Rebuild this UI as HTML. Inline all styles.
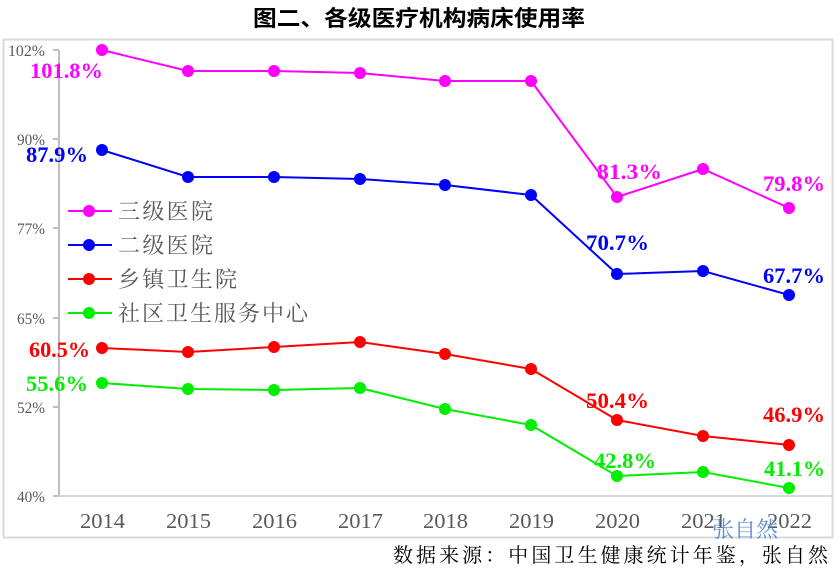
<!DOCTYPE html>
<html><head><meta charset="utf-8"><style>
body{margin:0;background:#fff;width:840px;height:568px;overflow:hidden}
svg text{font-family:"Liberation Serif","Noto Serif CJK SC",serif}
</style></head><body>
<svg width="840" height="568" viewBox="0 0 840 568">
<text x="253" y="26" textLength="332" lengthAdjust="spacingAndGlyphs" font-size="22" font-weight="bold" fill="#000" style="font-family:'Liberation Sans','Noto Sans CJK SC',sans-serif">图二、各级医疗机构病床使用率</text>
<rect x="3.5" y="39.5" width="829" height="498" fill="none" stroke="#d9d9d9" stroke-width="2"/>
<line x1="59" y1="50" x2="59" y2="496" stroke="#bfbfbf" stroke-width="2"/>
<line x1="59" y1="496" x2="832" y2="496" stroke="#d9d9d9" stroke-width="2"/>
<g stroke="#bfbfbf" stroke-width="2">
<line x1="53" y1="50" x2="59" y2="50"/><line x1="53" y1="139" x2="59" y2="139"/><line x1="53" y1="228" x2="59" y2="228"/><line x1="53" y1="318" x2="59" y2="318"/><line x1="53" y1="407" x2="59" y2="407"/><line x1="53" y1="496" x2="59" y2="496"/>
</g>
<g font-size="16" fill="#595959">
<text x="8" y="56" textLength="37" lengthAdjust="spacingAndGlyphs">102%</text><text x="17" y="145" textLength="28" lengthAdjust="spacingAndGlyphs">90%</text><text x="17" y="234" textLength="28" lengthAdjust="spacingAndGlyphs">77%</text><text x="17" y="324" textLength="28" lengthAdjust="spacingAndGlyphs">65%</text><text x="17" y="413" textLength="28" lengthAdjust="spacingAndGlyphs">52%</text><text x="17" y="502" textLength="28" lengthAdjust="spacingAndGlyphs">40%</text>
</g>
<g font-size="21" fill="#595959">
<text x="80" y="528" textLength="45" lengthAdjust="spacingAndGlyphs">2014</text><text x="166" y="528" textLength="45" lengthAdjust="spacingAndGlyphs">2015</text><text x="252" y="528" textLength="45" lengthAdjust="spacingAndGlyphs">2016</text><text x="338" y="528" textLength="45" lengthAdjust="spacingAndGlyphs">2017</text><text x="423" y="528" textLength="45" lengthAdjust="spacingAndGlyphs">2018</text><text x="509" y="528" textLength="45" lengthAdjust="spacingAndGlyphs">2019</text><text x="595" y="528" textLength="45" lengthAdjust="spacingAndGlyphs">2020</text><text x="681" y="528" textLength="45" lengthAdjust="spacingAndGlyphs">2021</text><text x="767" y="528" textLength="45" lengthAdjust="spacingAndGlyphs">2022</text>
</g>
<g fill="none" stroke-width="2">
<polyline stroke="#ff00ff" points="102,50 188,71 274,71 360,73 445,81 531,81 617,197 703,169 789,208"/>
<polyline stroke="#0000ff" points="102,150 188,177 274,177 360,179 445,185 531,195 617,274 703,271 789,295"/>
<polyline stroke="#ff0000" points="102,348 188,352 274,347 360,342 445,354 531,369 617,420 703,436 789,445"/>
<polyline stroke="#00ee00" points="102,383 188,389 274,390 360,388 445,409 531,425 617,476 703,472 789,488"/>
</g>
<g fill="#ff00ff"><circle cx="102" cy="50" r="6"/><circle cx="188" cy="71" r="6"/><circle cx="274" cy="71" r="6"/><circle cx="360" cy="73" r="6"/><circle cx="445" cy="81" r="6"/><circle cx="531" cy="81" r="6"/><circle cx="617" cy="197" r="6"/><circle cx="703" cy="169" r="6"/><circle cx="789" cy="208" r="6"/></g>
<g fill="#0000ff"><circle cx="102" cy="150" r="6"/><circle cx="188" cy="177" r="6"/><circle cx="274" cy="177" r="6"/><circle cx="360" cy="179" r="6"/><circle cx="445" cy="185" r="6"/><circle cx="531" cy="195" r="6"/><circle cx="617" cy="274" r="6"/><circle cx="703" cy="271" r="6"/><circle cx="789" cy="295" r="6"/></g>
<g fill="#ff0000"><circle cx="102" cy="348" r="6"/><circle cx="188" cy="352" r="6"/><circle cx="274" cy="347" r="6"/><circle cx="360" cy="342" r="6"/><circle cx="445" cy="354" r="6"/><circle cx="531" cy="369" r="6"/><circle cx="617" cy="420" r="6"/><circle cx="703" cy="436" r="6"/><circle cx="789" cy="445" r="6"/></g>
<g fill="#00ee00"><circle cx="102" cy="383" r="6"/><circle cx="188" cy="389" r="6"/><circle cx="274" cy="390" r="6"/><circle cx="360" cy="388" r="6"/><circle cx="445" cy="409" r="6"/><circle cx="531" cy="425" r="6"/><circle cx="617" cy="476" r="6"/><circle cx="703" cy="472" r="6"/><circle cx="789" cy="488" r="6"/></g>
<g font-size="22" font-weight="bold">
<text x="30" y="78" fill="#ff00ff" textLength="73" lengthAdjust="spacingAndGlyphs">101.8%</text>
<text x="597" y="179" fill="#ff00ff" textLength="65" lengthAdjust="spacingAndGlyphs">81.3%</text>
<text x="763" y="191" fill="#ff00ff" textLength="62" lengthAdjust="spacingAndGlyphs">79.8%</text>
<text x="26" y="162" fill="#0000ff" textLength="62" lengthAdjust="spacingAndGlyphs">87.9%</text>
<text x="586" y="250" fill="#0000ff" textLength="63" lengthAdjust="spacingAndGlyphs">70.7%</text>
<text x="763" y="283" fill="#0000ff" textLength="62" lengthAdjust="spacingAndGlyphs">67.7%</text>
<text x="29" y="357" fill="#ff0000" textLength="61" lengthAdjust="spacingAndGlyphs">60.5%</text>
<text x="586" y="408" fill="#ff0000" textLength="63" lengthAdjust="spacingAndGlyphs">50.4%</text>
<text x="763" y="422" fill="#ff0000" textLength="62" lengthAdjust="spacingAndGlyphs">46.9%</text>
<text x="26" y="391" fill="#00ee00" textLength="62" lengthAdjust="spacingAndGlyphs">55.6%</text>
<text x="594" y="468" fill="#00ee00" textLength="62" lengthAdjust="spacingAndGlyphs">42.8%</text>
<text x="764" y="476" fill="#00ee00" textLength="61" lengthAdjust="spacingAndGlyphs">41.1%</text>
</g>
<g stroke-width="2">
<line x1="68" y1="211" x2="112" y2="211" stroke="#ff00ff"/><circle cx="89" cy="211" r="6" fill="#ff00ff"/>
<line x1="68" y1="245" x2="112" y2="245" stroke="#0000ff"/><circle cx="89" cy="245" r="6" fill="#0000ff"/>
<line x1="68" y1="279" x2="112" y2="279" stroke="#ff0000"/><circle cx="89" cy="279" r="6" fill="#ff0000"/>
<line x1="68" y1="313" x2="112" y2="313" stroke="#00ee00"/><circle cx="89" cy="313" r="6" fill="#00ee00"/>
</g>
<g font-size="22" fill="#595959">
<text x="118" y="219" textLength="95">三级医院</text><text x="118" y="253" textLength="95">二级医院</text><text x="118" y="287" textLength="119">乡镇卫生院</text><text x="118" y="321" textLength="190">社区卫生服务中心</text>
</g>
<text x="712" y="537" font-size="22" fill="#5b8fd0" textLength="66">张自然</text>
<text x="393" y="562" textLength="435" font-size="20" fill="#000">数据来源：中国卫生健康统计年鉴，张自然</text>
</svg>
</body></html>
